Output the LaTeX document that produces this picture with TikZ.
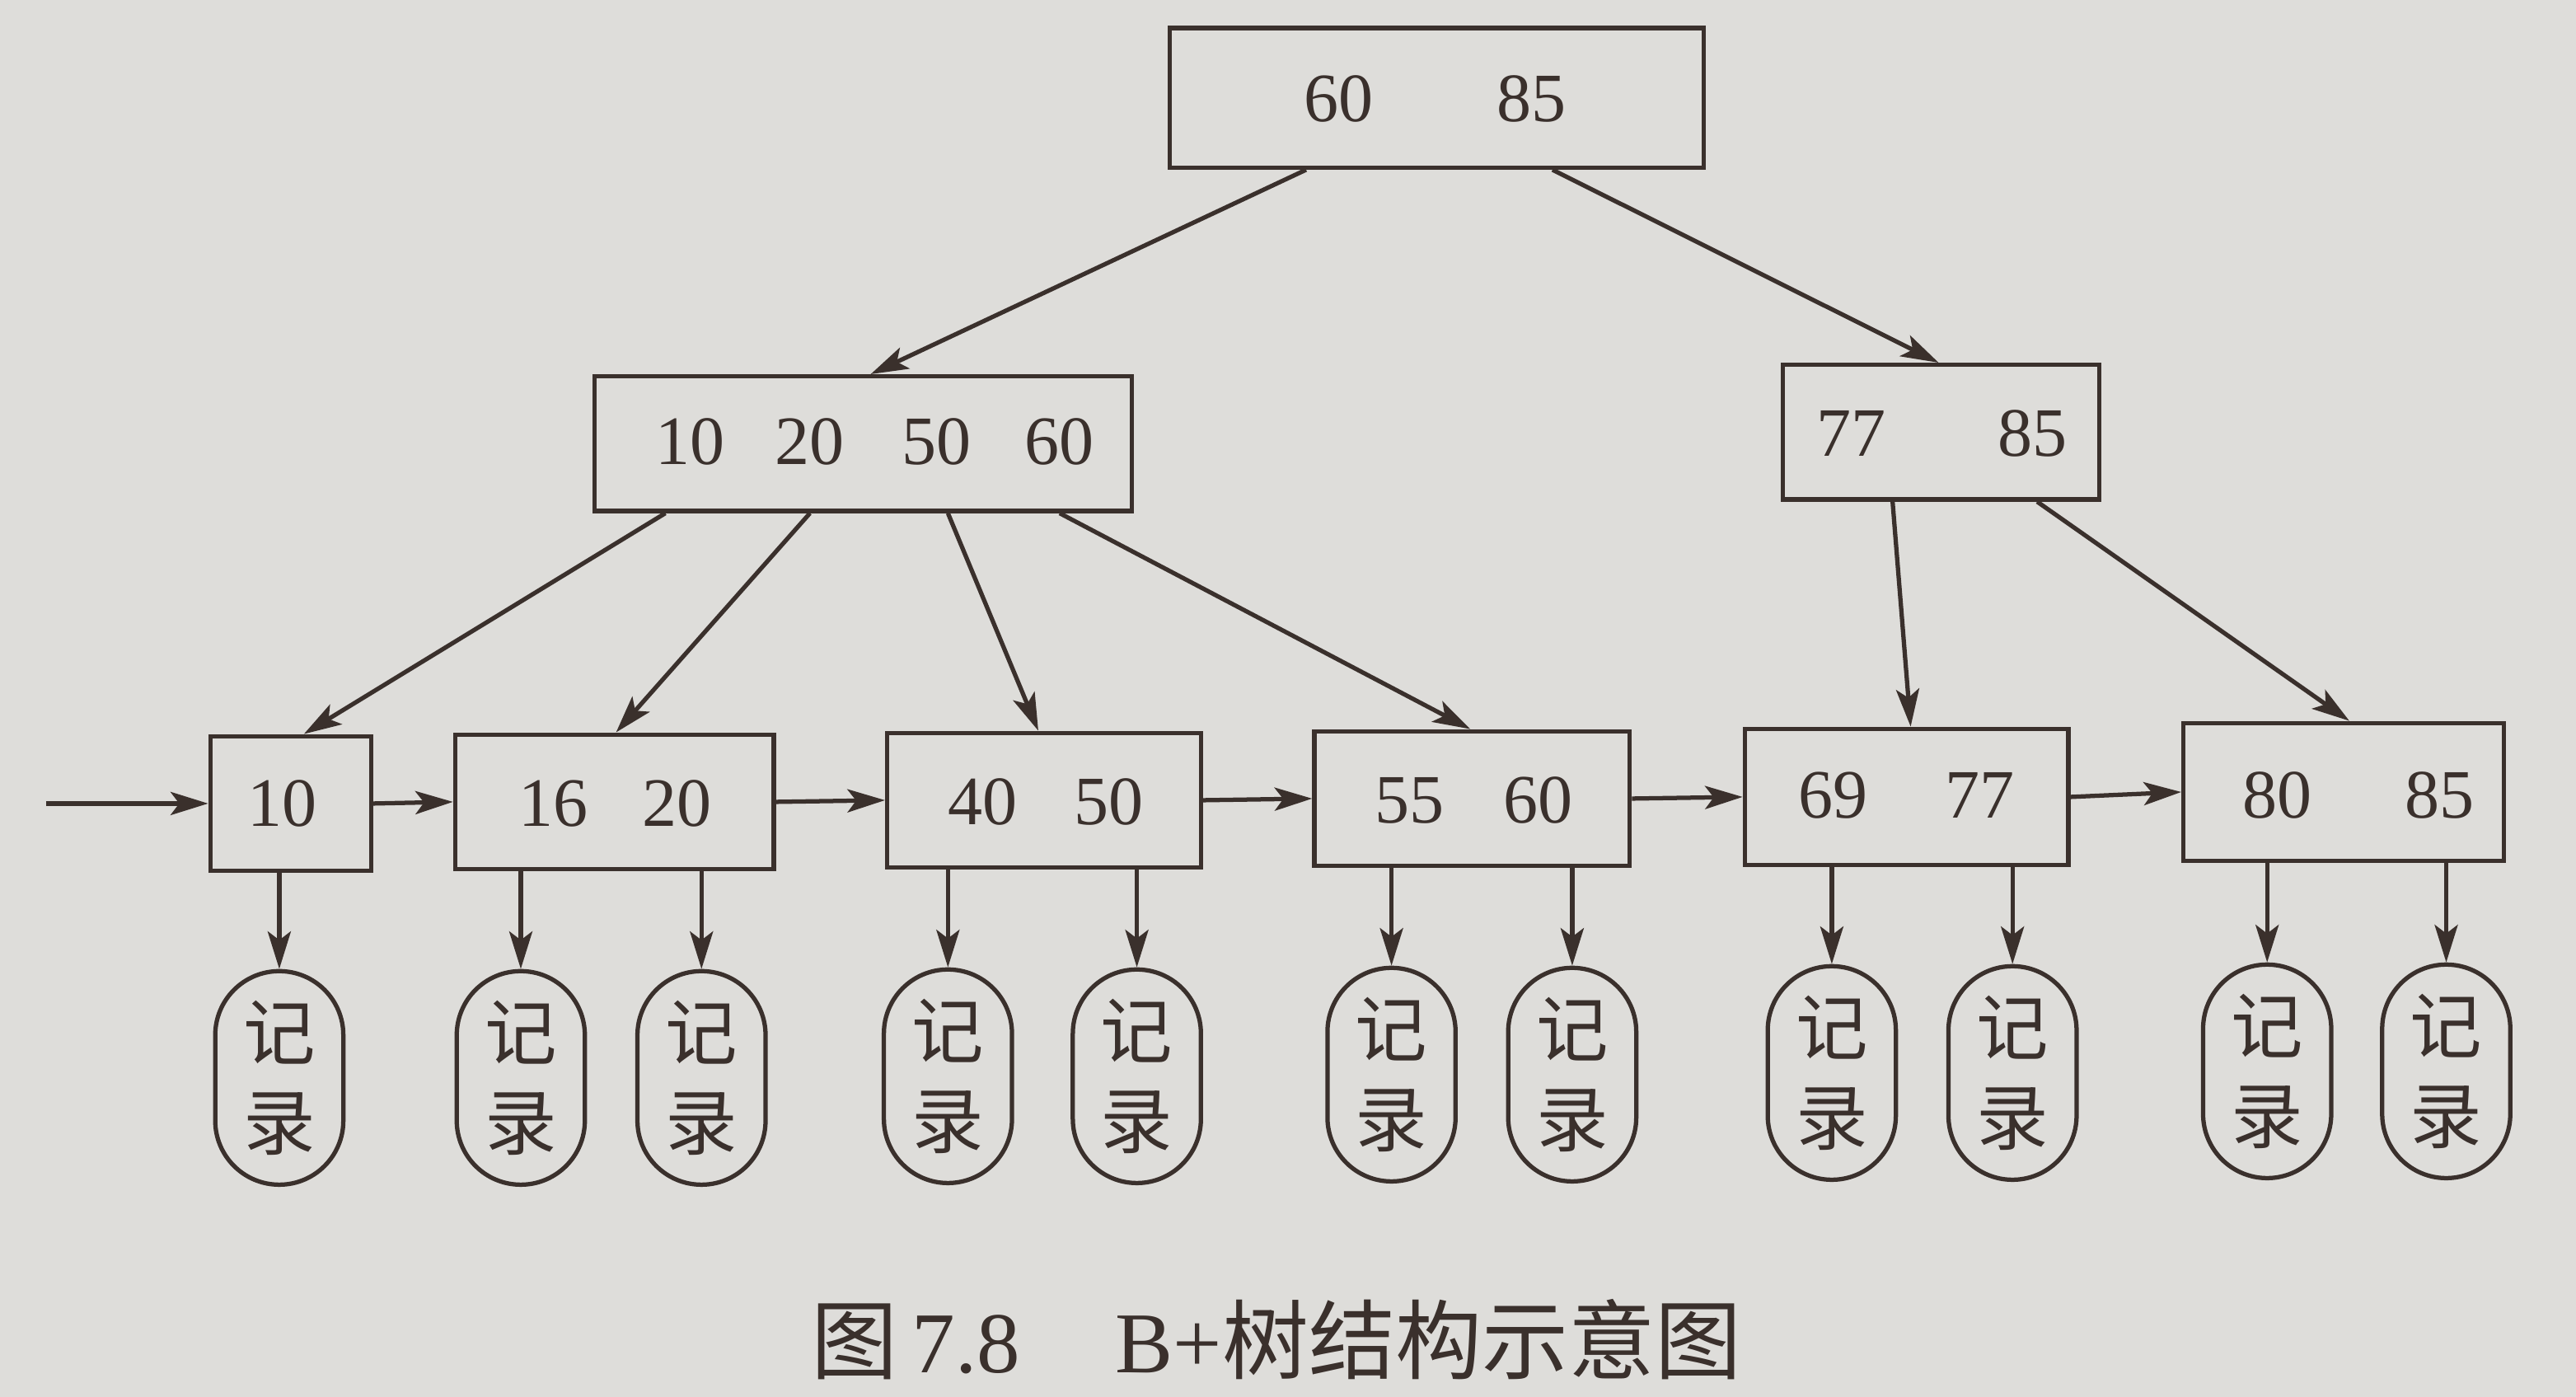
\documentclass[tikz,border=0pt]{standalone}
\usepackage{fontspec}
\setmainfont{Liberation Serif}
\newfontfamily\cjk{Noto Sans CJK SC}
\usetikzlibrary{arrows.meta}
\definecolor{paper}{HTML}{DEDDDA}
\definecolor{ink}{HTML}{3A302C}
\begin{document}
\begin{tikzpicture}[x=0.02cm,y=-0.02cm,
  every node/.style={text=ink},
  keybox/.style={draw=ink,line width=1.5pt,inner sep=0pt},
  rec/.style={draw=ink,line width=1.5pt,inner sep=0pt,minimum width=1.56cm,minimum height=2.6cm,rounded corners=0.78cm,align=center,font=\cjk\fontsize{25}{31}\selectfont},
  num/.style={font=\fontsize{24}{26}\selectfont,inner sep=0pt},
  link/.style={draw=ink,line width=1.5pt,-{Stealth[length=13pt,width=8pt,inset=3pt]}}]
\useasboundingbox (0,0) rectangle (1568,850);
\fill[paper] (0,0) rectangle (1568,850);

% key boxes
\node[keybox,minimum width=6.5cm,minimum height=1.7cm] (root) at (874.5,59.5) {};
\node[keybox,minimum width=6.54cm,minimum height=1.64cm] (ia) at (525.5,270) {};
\node[keybox,minimum width=3.86cm,minimum height=1.64cm] (ib) at (1181.5,263) {};
\node[keybox,minimum width=1.96cm,minimum height=1.64cm] (l1) at (177,489) {};
\node[keybox,minimum width=3.88cm,minimum height=1.64cm] (l2) at (374,488) {};
\node[keybox,minimum width=3.82cm,minimum height=1.64cm] (l3) at (635.5,487) {};
\node[keybox,minimum width=3.84cm,minimum height=1.64cm] (l4) at (896,486) {};
\node[keybox,minimum width=3.94cm,minimum height=1.66cm] (l5) at (1160.5,485) {};
\node[keybox,minimum width=3.9cm,minimum height=1.68cm] (l6) at (1426.5,482) {};

% keys
\node[num] (k1) at (815,60) {60};
\node[num] (k2) at (932,60) {85};
\node[num] (k3) at (420,269) {10};
\node[num] (k4) at (493,269) {20};
\node[num] (k5) at (570,269) {50};
\node[num] (k6) at (645,269) {60};
\node[num] (k7) at (1127,264) {77};
\node[num] (k8) at (1237,264) {85};
\node[num] (k9) at (172,489) {10};
\node[num] (k10) at (337,489) {16};
\node[num] (k11) at (412,489) {20};
\node[num] (k12) at (598,488) {40};
\node[num] (k13) at (675,488) {50};
\node[num] (k14) at (858,487) {55};
\node[num] (k15) at (936,487) {60};
\node[num] (k16) at (1116,484) {69};
\node[num] (k17) at (1205,484) {77};
\node[num] (k18) at (1386,484) {80};
\node[num] (k19) at (1485,484) {85};

% records
\foreach \i/\x/\y in {1/170/656,2/317/656,3/427/656,4/577/655,5/692/655,6/847/654,7/957/654,8/1115/653,9/1225/653,10/1380/652,11/1489/652}
  \node[rec] (r\i) at (\x,\y) {记\\录};

% tree links
\draw[link] (795,0 |- root.south) -- (530,0 |- ia.north);
\draw[link] (945,0 |- root.south) -- (1180,0 |- ib.north);
\draw[link] (405,0 |- ia.south) -- (185,0 |- l1.north);
\draw[link] (493,0 |- ia.south) -- (375,0 |- l2.north);
\draw[link] (577,0 |- ia.south) -- (632,0 |- l3.north);
\draw[link] (645,0 |- ia.south) -- (895,0 |- l4.north);
\draw[link] (1152,0 |- ib.south) -- (1163,0 |- l5.north);
\draw[link] (1240,0 |- ib.south) -- (1430,0 |- l6.north);

% leaf chain
\coordinate (start) at (28,489);
\draw[link] (start) -- (l1.west);
\draw[link] (l1.east) -- (l2.west);
\draw[link] (l2.east) -- (l3.west);
\draw[link] (l3.east) -- (l4.west);
\draw[link] (l4.east) -- (l5.west);
\draw[link] (l5.east) -- (l6.west);

% record pointers
\draw[link] (r1.north |- l1.south) -- (r1.north);
\draw[link] (r2.north |- l2.south) -- (r2.north);
\draw[link] (r3.north |- l2.south) -- (r3.north);
\draw[link] (r4.north |- l3.south) -- (r4.north);
\draw[link] (r5.north |- l3.south) -- (r5.north);
\draw[link] (r6.north |- l4.south) -- (r6.north);
\draw[link] (r7.north |- l4.south) -- (r7.north);
\draw[link] (r8.north |- l5.south) -- (r8.north);
\draw[link] (r9.north |- l5.south) -- (r9.north);
\draw[link] (r10.north |- l6.south) -- (r10.north);
\draw[link] (r11.north |- l6.south) -- (r11.north);

% caption
\node[font=\fontsize{30}{34}\selectfont] (cap) at (777,815) {{\cjk 图}\,7.8\hspace{1.1em}B+{\cjk 树结构示意图}};
\end{tikzpicture}
\end{document}
